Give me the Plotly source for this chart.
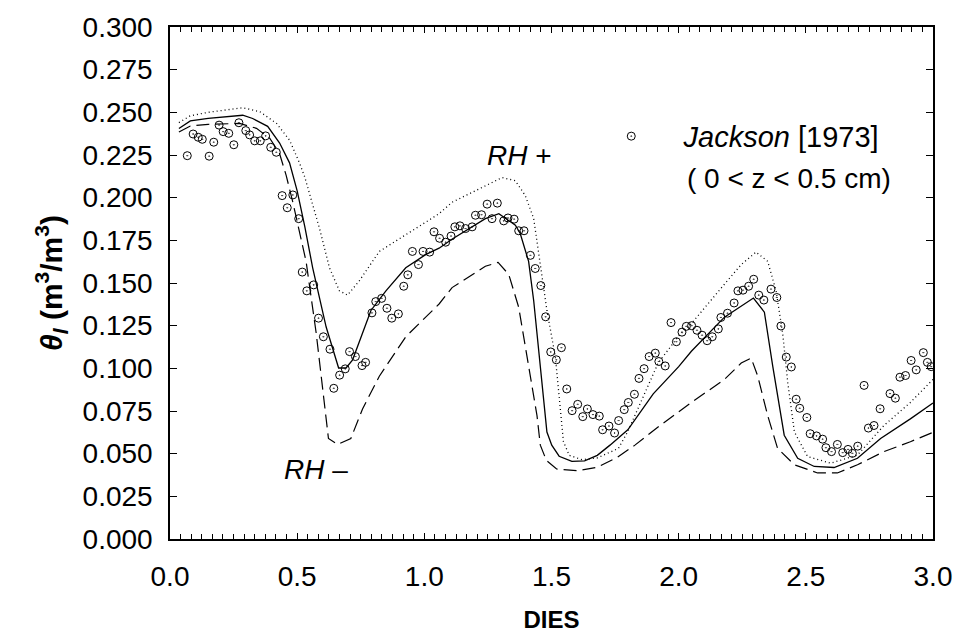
import plotly.graph_objects as go

# ---- observed data (Jackson 1973, 0 < z < 0.5 cm) ----
obs_day = [0.068, 0.091, 0.111, 0.127, 0.154, 0.172, 0.193, 0.209, 0.231, 0.251, 0.271, 0.298, 0.313, 0.333,
           0.355, 0.376, 0.396, 0.418, 0.441, 0.461, 0.483, 0.506, 0.520, 0.538, 0.565, 0.584, 0.603, 0.629,
           0.644, 0.667, 0.689, 0.706, 0.729, 0.755, 0.769, 0.794, 0.809, 0.832, 0.853, 0.872, 0.898, 0.919,
           0.935, 0.953, 0.977, 0.995, 1.021, 1.038, 1.060, 1.084, 1.105, 1.120, 1.140, 1.162, 1.188, 1.201,
           1.225, 1.247, 1.266, 1.287, 1.312, 1.329, 1.353, 1.371, 1.392, 1.417, 1.436, 1.458, 1.477, 1.497,
           1.519, 1.539, 1.560, 1.581, 1.603, 1.623, 1.641, 1.663, 1.688, 1.701, 1.726, 1.748, 1.764, 1.786,
           1.802, 1.826, 1.844, 1.864, 1.884, 1.908, 1.922, 1.947, 1.970, 1.991, 2.013, 2.030, 2.051, 2.072,
           2.092, 2.112, 2.132, 2.156, 2.166, 2.192, 2.218, 2.233, 2.253, 2.275, 2.295, 2.315, 2.335, 2.363,
           2.386, 2.402, 2.423, 2.443, 2.462, 2.476, 2.504, 2.517, 2.542, 2.566, 2.579, 2.601, 2.624, 2.645,
           2.666, 2.683, 2.704, 2.729, 2.746, 2.768, 2.792, 2.831, 2.852, 2.870, 2.892, 2.914, 2.934, 2.962,
           2.978, 2.993]
obs_theta = [0.2246, 0.2373, 0.2354, 0.2342, 0.2243, 0.2325, 0.2425, 0.2387, 0.2377, 0.2310, 0.2439, 0.2393,
             0.2368, 0.2333, 0.2333, 0.2362, 0.2295, 0.2266, 0.2012, 0.1941, 0.2016, 0.1877, 0.1564, 0.1454,
             0.1489, 0.1294, 0.1185, 0.1112, 0.0883, 0.0960, 0.0997, 0.1098, 0.1069, 0.1016, 0.1035, 0.1325,
             0.1391, 0.1410, 0.1352, 0.1294, 0.1319, 0.1481, 0.1548, 0.1685, 0.1608, 0.1685, 0.1681, 0.1800,
             0.1762, 0.1739, 0.1775, 0.1829, 0.1835, 0.1819, 0.1829, 0.1897, 0.1900, 0.1962, 0.1877, 0.1968,
             0.1864, 0.1881, 0.1874, 0.1806, 0.1806, 0.1662, 0.1585, 0.1485, 0.1302, 0.1096, 0.1050, 0.1121,
             0.0879, 0.0752, 0.0789, 0.0717, 0.0762, 0.0729, 0.0720, 0.0640, 0.0662, 0.0621, 0.0694, 0.0758,
             0.0800, 0.0848, 0.0941, 0.0998, 0.1069, 0.1089, 0.1040, 0.1014, 0.1268, 0.1156, 0.1212, 0.1246,
             0.1250, 0.1223, 0.1194, 0.1162, 0.1185, 0.1231, 0.1298, 0.1323, 0.1383, 0.1454, 0.1458, 0.1481,
             0.1522, 0.1429, 0.1400, 0.1464, 0.1415, 0.1248, 0.1066, 0.1008, 0.0819, 0.0766, 0.0712, 0.0617,
             0.0604, 0.0585, 0.0535, 0.0512, 0.0554, 0.0506, 0.0525, 0.0502, 0.0544, 0.0900, 0.0650, 0.0665,
             0.0763, 0.0852, 0.0825, 0.0948, 0.0958, 0.1046, 0.0991, 0.1092, 0.1035, 0.1010]

# ---- simulation (base) ----
base_day = [0.035, 0.08, 0.15, 0.25, 0.286, 0.325, 0.384, 0.431, 0.470, 0.500, 0.530, 0.561, 0.614, 0.663,
            0.692, 0.718, 0.751, 0.790, 0.849, 0.927, 1.005, 1.058, 1.110, 1.240, 1.293, 1.358, 1.377, 1.410,
            1.430, 1.456, 1.482, 1.501, 1.530, 1.580, 1.630, 1.680, 1.730, 1.800, 1.900, 2.000, 2.050, 2.180,
            2.294, 2.337, 2.370, 2.415, 2.468, 2.533, 2.611, 2.703, 2.794, 2.911, 3.000]
base_theta = [0.2405, 0.2450, 0.2465, 0.2480, 0.2483, 0.2464, 0.2418, 0.2320, 0.2204, 0.2040, 0.1830, 0.1589,
              0.1242, 0.1002, 0.1002, 0.1050, 0.1185, 0.1339, 0.1454, 0.1589, 0.1666, 0.1704, 0.1758, 0.1877,
              0.1906, 0.1839, 0.1790, 0.1627, 0.1396, 0.1012, 0.0627, 0.0550, 0.0485, 0.0455, 0.0458, 0.0490,
              0.0550, 0.0640, 0.0850, 0.1010, 0.1100, 0.1300, 0.1412, 0.1329, 0.1012, 0.0608, 0.0473, 0.0425,
              0.0419, 0.0473, 0.0589, 0.0704, 0.0797]

# ---- simulation RH + ----
rhp_day = [0.035, 0.08, 0.15, 0.286, 0.353, 0.419, 0.470, 0.509, 0.530, 0.548, 0.588, 0.627, 0.666, 0.698,
           0.744, 0.823, 0.927, 1.058, 1.109, 1.240, 1.306, 1.358, 1.397, 1.430, 1.449, 1.482, 1.515, 1.534,
           1.547, 1.570, 1.620, 1.680, 1.763, 1.800, 1.850, 1.919, 2.000, 2.050, 2.180, 2.246, 2.304, 2.350,
           2.383, 2.409, 2.429, 2.455, 2.507, 2.598, 2.703, 2.807, 2.911, 3.000]
rhp_theta = [0.2440, 0.2480, 0.2500, 0.2527, 0.2504, 0.2435, 0.2337, 0.2204, 0.2120, 0.2030, 0.1819, 0.1589,
             0.1454, 0.1429, 0.1512, 0.1685, 0.1781, 0.1906, 0.1973, 0.2070, 0.2118, 0.2099, 0.2012, 0.1877,
             0.1685, 0.1339, 0.1069, 0.0762, 0.0570, 0.0490, 0.0465, 0.0475, 0.0531, 0.0630, 0.0800, 0.1030,
             0.1190, 0.1262, 0.1493, 0.1608, 0.1681, 0.1627, 0.1454, 0.1204, 0.0916, 0.0627, 0.0483, 0.0444,
             0.0492, 0.0665, 0.0800, 0.0935]

# ---- simulation RH - ----
rhm_day = [0.035, 0.08, 0.15, 0.274, 0.340, 0.392, 0.430, 0.457, 0.483, 0.535, 0.575, 0.600, 0.623, 0.659,
           0.711, 0.757, 0.823, 0.927, 1.058, 1.109, 1.240, 1.290, 1.332, 1.371, 1.410, 1.443, 1.456, 1.480,
           1.520, 1.600, 1.680, 1.760, 1.828, 1.919, 2.050, 2.180, 2.246, 2.285, 2.311, 2.350, 2.389, 2.455,
           2.546, 2.624, 2.703, 2.807, 2.911, 3.000]
rhm_theta = [0.2385, 0.2420, 0.2430, 0.2435, 0.2406, 0.2348, 0.2262, 0.2129, 0.1973, 0.1627, 0.1204, 0.0877,
             0.0589, 0.0554, 0.0589, 0.0762, 0.0954, 0.1185, 0.1377, 0.1473, 0.1598, 0.1621, 0.1550, 0.1358,
             0.1012, 0.0723, 0.0550, 0.0460, 0.0410, 0.0400, 0.0420, 0.0480, 0.0550, 0.0656, 0.0800, 0.0935,
             0.1031, 0.1060, 0.0954, 0.0723, 0.0531, 0.0435, 0.0387, 0.0387, 0.0435, 0.0512, 0.0570, 0.0625]

x_ticks = [0.0, 0.5, 1.0, 1.5, 2.0, 2.5, 3.0]
y_ticks = [i * 0.025 for i in range(13)]

FONT = "Liberation Sans, Arial, sans-serif"

fig = go.Figure()
fig.add_trace(go.Scatter(x=rhp_day, y=rhp_theta, mode="lines", showlegend=False,
                         line=dict(color="black", width=1.3, dash="1px,3px")))
fig.add_trace(go.Scatter(x=rhm_day, y=rhm_theta, mode="lines", showlegend=False,
                         line=dict(color="black", width=1.2, dash="13px,6px")))
fig.add_trace(go.Scatter(x=base_day, y=base_theta, mode="lines", showlegend=False,
                         line=dict(color="black", width=1.3)))
fig.add_trace(go.Scatter(x=obs_day, y=obs_theta, mode="markers",
                         name="\u00a0\u00a0\u00a0\u00a0<i>Jackson</i> [1973]",
                         marker=dict(symbol="circle-open-dot", size=8, color="black",
                                     line=dict(color="black", width=1))))

fig.update_layout(
    width=964, height=641,
    margin=dict(l=170, r=28, t=22, b=99),
    paper_bgcolor="white", plot_bgcolor="white",
    font=dict(family=FONT, color="black", size=28),
    legend=dict(x=(633 - 20 - 170) / 766, y=(542 - 133) / 520, xanchor="left", yanchor="middle",
                bgcolor="rgba(0,0,0,0)", font=dict(size=29)),
    annotations=[
        dict(text="( 0 &lt; z &lt; 0.5 cm)", xref="paper", yref="paper", x=(791 - 170) / 766,
             y=(542 - 176) / 520, xanchor="center", yanchor="middle", showarrow=False,
             font=dict(size=28)),
        dict(text="<i>RH</i> +", xref="paper", yref="paper", x=(521 - 170) / 766,
             y=(542 - 152) / 520, xanchor="center", yanchor="middle", showarrow=False,
             font=dict(size=28)),
        dict(text="<i>RH</i> \u2013", xref="x", yref="y", x=0.575, y=0.041,
             xanchor="center", yanchor="middle", showarrow=False, font=dict(size=28)),
    ],
)

fig.update_xaxes(range=[0, 3], tickvals=x_ticks, tickformat=".1f",
                 ticks="inside", ticklen=6, tickcolor="black", mirror="ticks",
                 showline=True, linecolor="black", linewidth=1.5, showgrid=False, zeroline=False,
                 ticklabelstandoff=12,
                 minor=dict(dtick=1 / 24, ticks="inside", ticklen=5, tickcolor="black", showgrid=False),
                 title=dict(text="<b>DIES</b>", font=dict(size=24), standoff=20))
fig.update_yaxes(range=[0, 0.3], tickvals=y_ticks, tickformat=".3f",
                 ticks="inside", ticklen=7, tickcolor="black", mirror="ticks",
                 showline=True, linecolor="black", linewidth=1.5, showgrid=False, zeroline=False,
                 ticklabelstandoff=10,
                 title=dict(text="<b><i>θ</i><sub><i>l</i></sub> (m<sup>3</sup>/m<sup>3</sup>)</b>",
                            font=dict(size=30), standoff=11))

fig.write_html("out.html")
